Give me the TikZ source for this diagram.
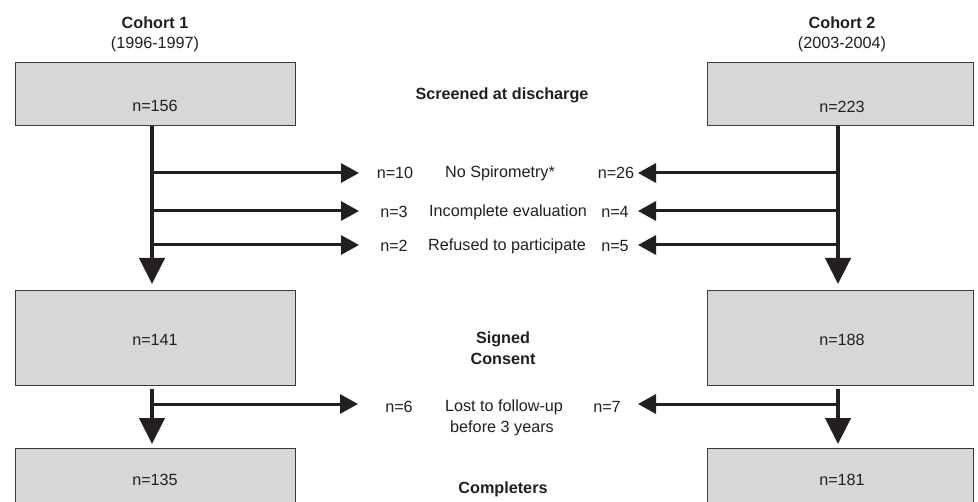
\documentclass[tikz,border=0pt]{standalone}
\usepackage{fontspec}
\setmainfont{Liberation Sans}
\usetikzlibrary{arrows.meta}
\definecolor{ink}{HTML}{231F20}
\definecolor{boxfill}{HTML}{D6D7D9}
\definecolor{boxline}{HTML}{3A3A3C}
\begin{document}
\begin{tikzpicture}[x=1bp,y=-1bp,
  txt/.style={text=ink,font=\fontsize{16.2bp}{19bp}\selectfont,inner sep=0pt},
  hd/.style={txt,font=\fontsize{16.2bp}{19bp}\selectfont\bfseries},
  cbox/.style={draw=boxline,line width=1bp,fill=boxfill},
  vflow/.style={draw=ink,line width=4.5bp,-{Triangle[length=26bp,width=25bp]}},
  hflow/.style={draw=ink,line width=3bp,-{Triangle[length=18bp,width=19bp]}},
  trunk/.style={draw=ink,line width=4.5bp}]
\useasboundingbox (0,0) rectangle (978,502);
\clip (0,0) rectangle (978,502);
% headers
\node[hd] (c1) at (155,23) {Cohort 1};
\node[txt] (y1) at (155,44) {(1996-1997)};
\node[hd] (c2) at (842,23) {Cohort 2};
\node[txt] (y2) at (842,44) {(2003-2004)};
% boxes
\draw[cbox] (15,63) rectangle (295,126);
\draw[cbox] (707,63) rectangle (973,126);
\draw[cbox] (15,291) rectangle (295,385);
\draw[cbox] (707,291) rectangle (973,385);
\draw[cbox] (15,448) rectangle (295,530);
\draw[cbox] (707,448) rectangle (973,530);
\node[txt] (a1) at (155,106) {n=156};
\node[txt] (b1) at (842,107) {n=223};
\node[txt] (a2) at (155,340) {n=141};
\node[txt] (b2) at (842,340) {n=188};
\node[txt] (a3) at (155,480) {n=135};
\node[txt] (b3) at (842,480) {n=181};
% stage labels
\node[hd] (s1) at (502,95) {Screened at discharge};
\node[hd] (s2) at (503,339) {Signed};
\node[hd] (s2b) at (503,359) {Consent};
\node[hd] (s3) at (503,489) {Completers};
% exclusion labels
\node[txt] (l1) at (395,173) {n=10};
\node[txt] (m1) at (500,173) {No Spirometry*};
\node[txt] (r1) at (616,173) {n=26};
\node[txt] (l2) at (394,212) {n=3};
\node[txt] (m2) at (508,212) {Incomplete evaluation};
\node[txt] (r2) at (615,212) {n=4};
\node[txt] (l3) at (394,246) {n=2};
\node[txt] (m3) at (507,246) {Refused to participate};
\node[txt] (r3) at (615,246) {n=5};
\node[txt] (l4) at (399,407) {n=6};
\node[txt] (m4) at (504,407) {Lost to follow-up};
\node[txt] (m4b) at (502,428) {before 3 years};
\node[txt] (r4) at (607,407) {n=7};
% coordinates
\coordinate (LT1) at (152,126);
\coordinate (LB1) at (152,284);
\coordinate (RT1) at (838,126);
\coordinate (RB1) at (838,284);
\coordinate (LT2) at (152,389);
\coordinate (LB2) at (152,444);
\coordinate (RT2) at (838,389);
\coordinate (RB2) at (838,444);
\foreach \i/\y in {1/173,2/211,3/245,4/404}{
  \coordinate (Ls\i) at (152,\y);
  \coordinate (Rs\i) at (838,\y);
}
\coordinate (Le1) at (359,173);
\coordinate (Le2) at (359,211);
\coordinate (Le3) at (359,245);
\coordinate (Le4) at (358,404);
\coordinate (Re1) at (638,173);
\coordinate (Re2) at (638,211);
\coordinate (Re3) at (638,245);
\coordinate (Re4) at (638,404);
% vertical flows
\draw[vflow] (LT1) -- (LB1);
\draw[vflow] (RT1) -- (RB1);
\draw[vflow] (LT2) -- (LB2);
\draw[vflow] (RT2) -- (RB2);
% horizontal exclusions
\foreach \i in {1,2,3,4}{
  \draw[hflow] (Ls\i) -- (Le\i);
  \draw[hflow] (Rs\i) -- (Re\i);
}
\end{tikzpicture}
\end{document}
